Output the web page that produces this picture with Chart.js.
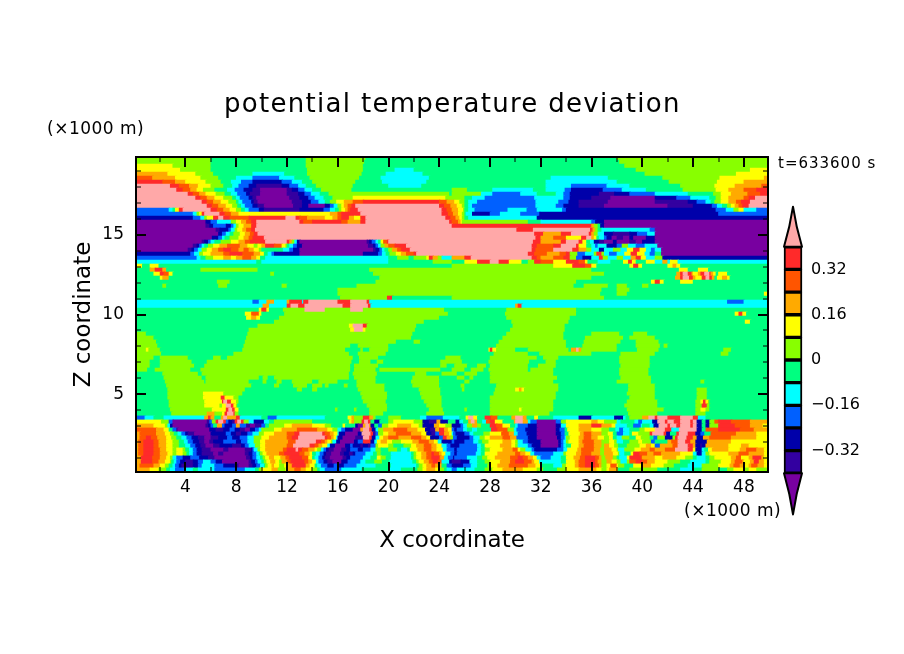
<!DOCTYPE html>
<html>
<head>
<meta charset="utf-8">
<script src="https://cdn.jsdelivr.net/npm/chart.js@4"></script>
<style>
  body { margin: 0; background: #fff; }
  #plot { position: absolute; left: 0; top: 0; }
  #bar { position: absolute; left: 775px; top: 200px; }
</style>
</head>
<body>
<canvas id="plot" width="904" height="654"></canvas>
<canvas id="bar" width="129" height="325"></canvas>
<script>
// shading classes a..l, lowest to highest
const classKeys = 'abcdefghijkl';
const classColors = ['#7800a0', '#3300a0', '#0000aa', '#0060ff', '#00ffff', '#00ff80',
                     '#88ff00', '#ffff00', '#ffaa00', '#ff5500', '#ff2a2a', '#ffa8a8'];
const levelEdges = [-0.4, -0.32, -0.24, -0.16, -0.08, 0, 0.08, 0.16, 0.24, 0.32, 0.4];
const barTicks = [0.32, 0.16, 0, -0.16, -0.32];
const barTickLabels = ['0.32', '0.16', '0', '\u22120.16', '\u22120.32'];

const xMajor = [4, 8, 12, 16, 20, 24, 28, 32, 36, 40, 44, 48];
const xMinor = [2, 6, 10, 14, 18, 22, 26, 30, 34, 38, 42, 46];
const zMajor = [5, 10, 15];
const zMinor = [1, 2, 3, 4, 6, 7, 8, 9, 11, 12, 13, 14, 16, 17, 18, 19];

const rowZ = [19.75, 19.5, 19.25, 19, 18.75, 18.5, 18.25, 18, 17.75, 17.5, 17.25, 17, 16.75, 16.5, 16.25, 16,
  15.75, 15.5, 15.25, 15, 14.75, 14.5, 14.25, 14, 13.75, 13.5, 13.25, 13, 12.75, 12.5, 12.25, 12,
  11.75, 11.5, 11.25, 11, 10.75, 10.5, 10.25, 10, 9.75, 9.5, 9.25, 9, 8.75, 8.5, 8.25, 8,
  7.75, 7.5, 7.25, 7, 6.75, 6.5, 6.25, 6, 5.75, 5.5, 5.25, 5, 4.75, 4.5, 4.25, 4,
  3.75, 3.5, 3.25, 3, 2.75, 2.5, 2.25, 2, 1.75, 1.5, 1.25, 1, 0.75, 0.5, 0.25];

// each row: class letter + x (km) where that class starts
const rowRuns = [
'g0 f6 g13.5 f18.2 g38',
'g0 f6 g13.5 f18.1 g38.2',
'h0 g3 f6 g13.5 f18 g38.6',
'h0 g3.6 f6 g13.6 f18 e20.5 f22 g39.5 h48.5',
'i0 h2.6 g4.8 f6.2 e9.3 f11.8 g13.6 f17.9 e19.8 f22.7 g40.2 h47.4',
'j0 i1.4 h3.2 g5.2 f6.6 e8 d9.3 e11.4 f12.6 g13.8 f17.7 e19.4 f23.2 e32.8 f37.3 g41.6 h46.1 i49.6',
'k0 j2.2 i3.2 h4 g5.6 f6.8 e7.6 d8.4 c9.3 d11.6 e12.4 f13.2 g14 f17.4 e19.5 f23 e32.4 f38 g42.1 h45.9 i48',
'l0 k2.8 j3.5 i4.3 h5 g6 f7 e7.7 d8.2 c9 b9.6 c11.6 d12.2 e12.9 f13.5 g14.3 f17.2 e20 f22.6 e32.4 d34.4 e37.2 f39 g43 h45.7 i47.3 j49.4',
'l0 k3.3 j3.8 i4.4 h4.9 g5.4 f6.3 e7.3 d7.9 c8.6 b9.3 a9.9 b12 c12.4 d12.9 e13.4 f14 g14.7 f17.1 g25 f26.2 e28.2 f31.4 e32.4 d33.9 c34.4 d36.9 e38.4 f40.3 g43.2 h45.8 i46.8 j48 k49',
'l0 k4.2 j4.6 i5.1 h5.6 g6.4 f7.1 e7.6 d8.1 c8.8 b9.1 a9.9 b12 c12.9 d13.4 e13.9 f14.6 g15.3 f24.8 g25 e27.3 d28.2 e30.4 f31.7 e33.2 d33.8 c34.3 b36.6 c37.8 d39 e41 f43.6 g45.6 h46.2 i47 j48.3 k49.3',
'l0 k4.8 j5.2 i5.7 h6.3 g7 f7.7 e8 d8.3 c9 b9.3 a9.6 b12.2 c13 d13.7 e14.2 f14.9 g15.6 h17.2 g24.5 f26 e26.6 d27.6 e31.5 d33.8 c34.3 b36 a37.5 c41 d42.7 e43.8 f45.3 g45.8 h46.2 i46.8 j48 k48.4 l48.9',
'l0 k5.3 j5.7 i6.2 h6.8 g7.4 f8 e8.2 d8.5 c9.2 b9.4 a9.7 b12.4 c13.2 d13.9 e14.5 f15 g15.4 h15.9 i16.5 j17.2 k18 j24 i24.6 h25.2 g25.6 f26 e26.3 d27 e31.6 d33.4 c34.2 b35 a37.3 b41 c43.6 d44.3 e45 f45.4 g45.7 h46.2 i46.8 j47.4 k47.8 l48.5',
'l0 k5.7 j6.1 i6.6 h7.2 g7.7 f8.1 e8.4 d8.7 c9.3 b9.7 a10.2 b12.5 c13.2 a13.7 c15 d15.4 e15.7 g16 h16.3 i16.5 j16.8 k17.1 l17.4 k24 j24.4 i24.9 h25.4 g25.8 f26 e26.3 d26.6 e31.6 d33.2 c33.8 b35 a37 b42 c44 d45.5 e45.9 f46.3 g46.7 h47 i47.3 j47.6 k47.9 l48.4',
'd0 e2.7 f3 h3.2 k3.5 l3.8 k6 j6.5 i7 h7.5 g8 f8.4 e8.7 d9 c9.8 b10.2 c13 d14.9 e15.4 f15.8 g16.1 h16.3 i16.6 j16.8 k17 l17.6 k24.2 j24.6 i25 h25.5 g25.9 f26 e26.3 d26.8 e29.4 d30.9 e31.7 d33.7 c34 d45.8 e46.6 g47.2 h47.6 e48 d49',
'd0 e4.6 g4.9 h5.1 k5.3 l5.5 k6.7 j7.1 i7.6 h8.2 i15.4 j16 k16.3 l17.8 k24.2 j24.7 i25.1 h25.5 g25.8 f26 e26.1 c26.6 d28 e28.8 d30.4 c31.9 d46',
'c0 d4.6 e5.2 g5.5 h5.7 k6.2 l6.6 k7 j7.5 k9 l11.9 k12.7 j13 i13.6 h15 i15.6 j16 k16.3 i16.9 h17.3 k17.8 l18.2 k24.5 j24.9 i25.3 h25.6 g25.8 f26 e26.3 c31.7',
'a0 c5.6 d6 e6.5 g7.6 h8 i8.4 j8.8 k9.2 l9.6 k13 j13.3 k14 j16.3 i16.8 k17.8 l18.2 k24.8 j25 i25.5 h25.7 g25.8 f31 e32 d36 c36.3 a37',
'a0 b5.6 c5.9 d6.2 c7.2 d7.6 e7.8 g8 h8.2 i8.6 k9.2 l9.6 k25 i36 g36.2 f36.5 c36.7 a37',
'a0 b6.4 c6.7 d7.4 e7.6 g7.9 h8.1 i8.5 j8.8 k9.2 l9.5 k30.1 l31.4 k35.9 i36.1 g36.3 f36.5 e36.8 d40.6 a41',
'a0 c6.6 d6.9 e7.2 f7.5 g7.8 h8.3 i8.7 j9.1 k9.4 l9.7 k31.5 i32.2 k33.6 l34.4 k35.8 i36 g36.2 e36.5 c37 b37.7 c39 d39.6 e40.4 a41',
'a0 c6.1 d6.6 e6.9 f7.1 g7.5 h8.2 i8.6 j9 k9.3 l10.2 k31.6 i32 j33 h34 k35.2 l35.6 i36 h36.2 f36.4 e36.6 d37 c37.2 a37.6 b38 a38.5 c39 a39.3 c40.3 a41',
'a0 b5.3 c5.5 d5.8 e6 f6.3 g6.8 h7.6 i8.2 j8.7 k9.1 l10.3 k12 i12.2 g12.4 e12.6 c12.8 a13 b18.3 c18.5 d18.7 e19 f19.2 h19.4 j19.6 k19.9 l20 k31.4 i32 k33.6 l34 k35 h35.3 f35.6 e35.9 c36.2 b36.6 a37 c37.7 a38 b39 a39.5 c40 a41',
'a0 b4.6 c4.9 d5.1 e5.3 f5.5 g5.8 h6.2 i6.7 j7.3 i8.3 h8.9 g9.4 h9.7 i10 k10.3 j11 h11.6 g11.9 f12 e12.2 d12.5 c12.8 a13.2 b18.4 c18.8 d19 e19.2 g19.4 i19.7 j20 k20.5 l21.4 k31.3 j31.7 k33 l33.6 k34.8 h35 f35.6 e36 d36.3 e36.5 c37.2 d38 g38.4 e38.9 d39.5 e40.2 a41.2',
'a0 b4.2 c4.5 d4.7 e5 g5.3 h5.7 i6.1 j6.6 k7 j7.6 i8.2 j8.6 i9 h9.4 g9.8 f10 e11.7 d12.2 c12.5 a13 b18.8 c19 d19.3 e19.5 f19.7 g20 i20.3 j20.7 k21 l21.7 k31.3 j31.6 l33 k34.5 i35 g35.6 e36 c36.6 e37 g37.7 e38.3 h38.8 k39.3 h39.8 e40.3 d40.7 e41 a41.5',
'c0 d4.4 e4.7 g5.1 h5.4 i6 j7 k7.5 j8.5 i9.4 h9.9 f10.2 e10.5 d10.8 c11 a13 c18 d19.2 e19.5 f19.8 g20.1 h20.6 i21 j21.4 k22 l22.2 k31 j31.5 i32.5 j33.5 k34 g34.3 d34.9 e35.5 g36.2 k36.4 g36.8 e37 d37.4 e38 h38.6 k39.1 h39.6 e40.2 d40.6 f41 a41.5',
'd0 e4.9 f5.2 g5.6 h6.2 i7 h7.6 i8 j8.5 i9.2 h9.6 f9.9 e10.3 f20 g20.7 f21.6 g22 h23 k23.2 i23.5 g23.9 e24.2 i25 k26 l26.5 k31.3 j31.7 i32 j33 k33.8 g34.3 d34.8 c35.3 e36 k36.6 g36.9 e37.3 g38 e38.5 i39.1 k39.5 h39.9 e40.3 g41 c41.6',
'e0 f9.6 e10 f20 g23.5 f25 h26 k27 l28 k28.7 h29.5 f30.5 g31 k31.5 j32 h33 k34 j35 h35.5 f35.7 e36.5 f37.5 h38.5 k38.9 h39.2 f39.5 h40.3 e41 i41.6 e42 h42.2 e42.8',
'h0 f0.6 h1.2 f1.9 g25 h33 k34.5 j35.5 h36 f36.4 h39 k39.3 h39.7 f40 h42 i42.4 h42.7 f43',
'f0 i1.2 k1.6 i2.2 f2.5 g5.2 f9.7 g18.5 f36 h42.9 f43.6 h44.4 f45.2',
'f0 h1.5 k2 j2.3 h2.7 f3 g10.7 f11 g18.8 f37 i42.7 k43 l43.2 k43.6 i43.9 h44 i44.4 k44.6 l44.9 k45.3 i45.4 h45.6 f45.8 h46 f46.7',
'f0 h2 i2.2 f2.7 g19.3 f36 i42.6 k43 l43.2 k43.7 i44 h44.2 k44.7 l45 k45.3 i45.5 f45.7 h45.9 i46.3 h46.7 f46.9',
'f0 g6.5 f7.5 g19 f34.8 h40.7 k41 h41.4 f41.7 h43 f44',
'f0 g2.2 f2.5 g6.6 f7.3 g11.6 f12 g17.5 f34.6 g35.4 f37.3 g38 f38.8 g40 f40.5',
'f0 g16 f36.8 g38 f39',
'f0 g16 f36.7 g38 f38.8 h49.6',
'f0 g16.2 k19.9 f20.3 g25 f37',
'e0 d9.3 e9.8 i10.4 e11 i12 k12.2 e13.2 k13.3 l13.7 k16 l17 k18.3 e18.5 d46.7 e48',
'e0 i10.1 e10.6 k12 l12.3 k12.9 l13.4 k16.4 l17 k18.4 e18.6 i30 k30.2 e30.5',
'f0 h9.8 k10 h10.4 f10.6 g11.7 l13.4 g15 l17 g18 f24.4 g29.3 f34.8',
'f0 h8.7 j9.2 h9.8 f10 g11.8 f24.7 g29.2 f34.8 h47.3 k47.6 h47.9 f48.2',
'f0 h8.8 i9.2 h9.6 f9.9 g11.4 f24 g29.3 f34.3',
'f0 g11 f22.8 g29.7 f34.2 h48.1 f48.5',
'f0 g9.7 h16.9 l17.2 k18 g18.3 f22.2 g29.8 f33.9',
'f0 g9 h17 l17.3 h18 g18.2 f22.1 g29.6 f33.9',
'g0 f0.9 g8.9 f21.9 g29.3 f33.8 g36 f38.2 g39.3 f40.4',
'g0 f1.5 g8.8 f21.8 g29 f33.8 g35.5 f38.5 g39 f41',
'g0 f1.7 g8.7 f20.6 g22 f22.5 g28.7 f34 g35.4 f38.3 g39.5 f41.3',
'g0 f1.8 g8.6 f17 g17.6 f20 g28.5 f34 g35.3 f38 g39.5 f41.4 g41.7 f42',
'g0 h0.9 g1.1 f2 g8.5 f16.6 g17.8 f18 g18.5 f20 h27.9 k28 h28.2 g28.5 f30 g31 f34.2 i34.4 l34.8 i35 g35.2 f38 g39.6 f41.3 g46.4 f47',
'g0 f2.1 g7.8 f16.9 g17.6 f19.8 g28.3 f31 g31.9 f36 g38.3 f41 g46.2 f46.8',
'g0 f1.5 g2 f4.2 g6.2 f6.8 g7.3 f17.2 g17.7 f19.2 g24.5 f25.7 g28 f31.7 g32.2 f33.4 g38.2 f40.6',
'g0 f1.2 g2 f4.5 g5.7 f17.1 g17.7 f18.6 g19.1 f19.6 g24.1 f25.8 g27.9 f31.1 g32.4 f33.2 g38.2 f40.6',
'g0 f1.2 g2 f4.7 g5.5 f17 g17.3 f19.2 g24.1 f24.6 g25.2 f26.2 g27 f27.7 g28 f31 g31.8 f33.2 g38.3 f40.6',
'g0 f1 g1.6 f4.4 g5.2 f17 g17.3 f19 g19.3 f24.1 g25 f26 g26.5 f27.5 g27.9 f31 g31.2 f33 g38.2 f40.5',
'f0 g2.2 f5 g5.3 f16.9 g17.2 f19.1 g22.1 f23 g24.2 f25.4 g26 f27 g28 f33 g38.2 f40.5',
'f0 g2.3 f5.3 g5.6 f9.8 g10.1 f10.5 g11 f16.9 g17.3 f19 g21.9 f24 g25.4 f26 g26.4 f26.7 g28 f33.3 g38.3 f40.7',
'f0 g2.4 f5.5 g5.6 f9 g10.1 f10.4 g11.2 f11.6 g12.4 f14 g14.5 f16 g17.5 f19 g21.8 f24 g26 f26.4 g28 f33 g38 f40.7 g44.6 f44.9',
'f0 g2.5 f9.2 g11 f11.4 g12.5 f13.6 g14 f14.8 g15 f15.3 g16.5 f16.8 g17.5 f19.7 g21.9 f24 g25.7 f26 g28.5 f33.4 g38.9 f41',
'f0 g2.6 f8.7 g12.8 f13.2 g14 f14.4 g17.6 f19.7 g22.4 f24.1 g25.8 f26 g28.4 h30 i30.3 h30.5 g30.7 f33.4 g38.9 f41 g44.3 f45.1',
'f0 g2.6 h5.4 g7 f8.5 g17.8 f19.9 g22.5 f24.1 g28.3 f33.2 g38.8 f41 g44.3 f45.1',
'f0 g2.6 h5.4 k6.8 h7.1 g7.8 f8.2 g17.9 f19.9 g22.6 f24.2 g28 f33.2 g39 f41 g44.3 f45.1',
'f0 g2.7 h5.5 k6.9 l7 k7.3 h7.6 g8 f8.2 g18 f19.8 g22.8 f24.2 g28 f33 g38.8 f41.2 g44.2 h44.6 k44.8 h45 g45.2 f45.3',
'f0 g2.7 h5.5 g6.7 h6.9 l7.2 k7.6 h7.8 g8 f8.1 g18.3 f19.9 g23 f24.2 g28 f33 g38.6 f41.2 g44.2 k44.7 g45.1 f45.3',
'f0 g2.8 h6.1 k7.2 l7.4 k7.7 h7.9 f8.2 g15.8 f16 g17.3 f17.5 g18.5 f19.9 g23.2 f24.3 g26 f26.2 g28 h30.3 g30.5 f33 g38.8 f41.7 g44.2 h44.6 g45 f45.3',
'f0 g2.9 i5.7 g6.3 h6.9 k7.1 l7.3 k7.8 g7.9 f8.2 g18.5 f19.6 g23 f24.4 g28 f32.7 g38.9 f41.2 g44.2 f45',
'd0 e0.8 f1.5 e2.3 i5.5 k5.8 i6 f6.3 i6.8 l7 i7.3 k8 e8.3 f10 d10.5 e11.2 f15 h16.8 i17.1 g17.3 k18 i18.5 g18.8 f19 g20 f21 e22.5 d23 e24.3 f25.6 h26.1 l26.3 h26.7 f27 k27.6 j28.1 f28.6 i29.7 l30 i30.6 f30.9 h31.5 f31.8 e33 c35 e36 c37.8 e38.5 f38.7 g39 i40 l40.5 k41 l41.2 k42 l43 k44 e44.4 f45',
'h0 g2.1 d2.7 a3 b5.7 d5.9 g6.1 k6.4 l6.6 k7 d7.2 c7.4 b7.7 k7.9 l8.1 k8.4 g8.6 e9 c9.4 e10.2 f10.6 g11 f14 h16.9 i17.1 g17.3 k17.9 l18.1 k18.4 f18.6 c18.9 f19.3 g20 h20.4 g22 c22.7 b23.2 i23.8 c24.1 f24.7 c25.3 e25.6 f25.9 i26.3 l26.5 i26.8 f27 e27.4 j27.7 k28 h28.4 f29 i29.9 l30 i30.6 e31 d31.2 a31.7 d33.2 g33.6 h34 i36 h36.5 g37 e38 f38.3 e39.4 d39.7 e40 c40.8 l41.2 k41.8 l42 k42.5 l43 k43.8 l44 c44.3 f44.7 c45 g45.3 j45.7 k46 j47 i48.5',
'i0 h1.5 g2.4 e2.6 c2.8 a3 b5.6 c5.8 d6 f6.2 i6.5 d6.9 c7.1 d7.7 i8 d8.3 b8.8 a9.1 b9.5 d10 f10.3 g10.6 h11.8 i12.4 h14 g15 f15.5 h16.4 f16.6 c17.4 a17.6 i18 l18.2 i18.5 c18.6 f18.9 d19.2 g19.5 h20 i20.7 h21.8 g22.4 c22.7 i23.6 h24 g24.5 c25 d25.7 e25.9 g26.2 i26.6 g27 f27.3 k28 j28.5 h29 f29.6 e30 d30.2 c31 a31.7 c33.2 e33.6 h34 i35 k36 i36.8 h37.6 e37.9 f38.8 d39.3 e39.9 f40 e40.6 c40.9 l41.3 k42 l42.2 k42.7 l43 k43.8 l44 c44.3 f44.7 c45 g45.3 k46 j47.3 i48.5 h49.5',
'j0 i1.7 h2.3 f2.7 d3 b3.3 a3.4 c5.9 b6.4 c7 d7.5 c7.9 b8.3 a8.7 c9.1 d9.5 e9.8 g10 h11 i11.6 j12.8 i14.4 h15.2 g15.6 e16 d16.3 c16.6 a17.2 i17.8 l18 k18.5 c18.7 e19 g19.2 i19.6 j20.4 i21.5 h22.3 c22.9 b23.3 i23.7 k24 i24.4 h24.7 d25 c25.2 d25.4 e25.9 f26.2 e26.6 f27 k28.1 j28.6 g29.4 e29.9 d30.1 c30.8 a31.7 c33.2 d33.5 f33.9 h34.1 i35 h36 g36.8 f37.4 e37.9 d38.2 e38.5 f39 g39.8 h40.2 l41 k41.8 e42.3 l42.9 c44.3 f44.7 j45 k46 j47.7 i48.8',
'i0 j0.4 i1.7 h2.4 g2.8 f3.1 e3.4 d3.7 c4 b4.2 a4.7 c6 d7.2 c7.6 b8 c8.4 d8.9 e9.3 g9.8 h10.2 i11 j12 k12.6 l13 k14.8 j15 i15.4 h15.7 e16 c16.1 a16.6 c17.6 l17.9 k18.6 b18.8 d19 g19.2 h19.6 i20 j20.6 i21.8 h22.6 c23 b23.4 d23.7 k24 i24.4 h24.8 e25 d25.1 c25.3 d26 e26.4 f26.7 g27.5 h28 j28.9 i29.5 e29.9 d30.2 c30.9 a31.7 c33.2 d33.6 f33.9 h34.2 i35.1 j35.4 i36 g36.8 h37.3 f37.7 d38 e38.5 f39 h39.2 g39.7 k40.6 l40.8 k41.7 c41.9 f42.2 k42.7 l42.9 k43.6 c44.2 d44.6 f44.9 j45.4 i47.4 h49',
'i0 j0.4 k0.9 j1.3 i1.8 h2.5 g2.9 f3.3 e3.7 d4.1 c4.5 b5 a5.5 b6 c6.6 d7.3 c7.7 d8.3 e8.9 g9.4 h10 i10.6 j12 k12.4 l12.9 k15 j15.2 i15.5 h15.7 e15.9 c16 a16.4 b17.4 l18 k18.5 c18.7 e19 h19.3 i19.6 j20 i20.8 j21.8 i22.6 h23 c23.3 d24 k24.3 i24.6 g24.9 d25.1 c25.4 d26.4 e26.7 g27.2 h27.6 i28 j29 i29.6 d30.1 c31 a31.7 c33.3 d33.6 e33.9 g34 h34.3 i35 j35.4 i36 h36.5 g37 h37.4 f37.7 e38 g38.4 f39 h39.5 g39.9 f40.6 d40.9 g41.2 c41.8 g42.4 k42.6 l42.8 k43.5 i44 c44.3 i44.8 j45.3 i47 h49',
'i0 j0.3 k0.7 j1.5 i1.9 h2.5 g3 f3.5 e3.9 d4.2 c4.6 b5.1 a5.5 b5.9 c6.2 d7 c8 d8.4 e8.9 g9.4 h9.9 i10.3 j12.1 l12.7 k14.3 j14.7 i15 h15.2 g15.5 e15.6 c15.9 a16.2 c17.3 d17.6 k18 c18.6 e18.9 h19.1 i19.4 h19.9 g20.3 h21 i21.9 j22.4 i23.2 h23.6 e23.9 c24.2 d25 c25.2 d26 e26.7 f27.1 g27.4 h27.9 i29 h29.7 g30 e30.2 d30.6 c31 a32 c33.4 d33.6 e33.8 g34 h34.2 i35 j35.3 i36.2 g36.8 h37.4 g37.8 e38 f38.5 g39 h39.7 g40 d40.7 f41 i42 j42.3 l42.8 k43.4 i43.8 c44.2 i45.1 h47',
'i0 j0.3 k0.7 j1.5 i1.9 h2.5 g3 f3.5 e4 d4.4 c4.8 b5.2 a5.6 b6.2 c6.7 b7.7 c8.4 d8.7 e9 g9.5 h9.9 i10.3 j12 l12.5 k13.8 j14.2 i14.5 h14.8 e15.2 c15.4 a15.8 c16.6 d17 c17.2 b17.8 c18 b18.4 d18.6 g19 h19.2 g20 f20.4 g21.2 h21.8 i22.2 j22.8 i23.4 h23.8 e24.2 d24.6 c24.9 d25.6 e27 f27.3 h27.6 i28.8 h29.7 g30 e30.2 d31 c31.3 a32 c33.4 d33.6 e33.8 f34 h34.4 i35 j35.4 i36.2 g36.8 i37 h37.4 g37.8 f38.1 g38.8 h39.8 i40.3 h40.7 d41 i41.4 j42.4 l42.8 k43.6 i44 c44.2 b44.6 c44.7 i45 h46.8 i47.8 h48.4',
'i0 j0.3 k0.7 j1.5 i2 h2.5 g3 h3.3 g3.8 f4 e4.3 d4.6 c4.9 b5.3 a6 b7 a7.4 b8.7 c9.2 d9.3 e9.4 g9.7 h9.9 i10.3 j11.7 k12 l12.7 k12.9 j13.2 i13.7 h14.2 g14.4 e14.7 d14.9 c15.1 b15.3 a15.7 b16.3 c16.7 d17 c17.6 d18 e18.6 g19 f19.4 g20 f20.7 e21 f21.5 h21.7 i22.3 j22.8 i23.4 h23.8 e24.3 d24.6 c25.2 d25.4 e27 f27.3 g27.6 h28 i29 j29.8 h30.2 g30.4 e30.8 d31.3 c31.5 d33.3 e33.8 h34.1 i34.9 j35.2 i36.2 g36.7 i37 h37.6 g38 e38.1 g38.6 h39.4 i39.9 j40.6 i41 j41.8 l42.6 k43.6 h44 c44.2 e44.7 f44.9 h45.2 i45.5 h46.8 i47.7 j48.2 i49 h49.6',
'i0 j0.3 k0.7 j1.5 i2 h2.6 g3 h3.3 g3.8 f4.1 e4.3 d4.6 c4.9 b5.3 a6.2 b6.6 a7 b8.7 c9 d9.3 e9.6 f9.8 g9.9 h10.1 i10.4 j11.4 k11.8 j13 i13.4 h13.8 f14 e14.3 d14.6 c14.9 b15.1 a15.5 b16.2 c16.5 b16.9 c17.2 d17.4 e18.2 f18.8 g19.1 f19.4 e20.2 f21.8 g22 h22.2 i22.6 j23 k23.4 j23.6 i24 h24.2 e24.5 d24.9 c25.2 d25.4 e26.9 f27.3 h27.6 i28.6 j30 i30.4 h30.8 e31.2 d31.5 e33 g33.8 h34 i34.8 j35.2 i36 g36.7 i37 h37.7 g38.1 e38.2 f38.6 h39.1 k39.3 j39.8 i40.4 j40.9 i41.5 h43 e44 c44.3 e44.7 g45 h45.3 i46.8 j47.6 i48.4 h49.6',
'i0 k0.5 j1.4 i2 h2.5 g2.8 e3 d3.3 c3.8 d4.4 c5.1 b5.8 a6.3 b8.8 c9.1 d9.3 e9.6 f9.9 g10.1 h10.3 i10.6 h11 i11.5 j11.9 k12.2 j13.2 h13.7 f14 e14.2 d14.5 c14.8 b15 a15.4 b16.4 c16.7 d17 e18 f18.6 h19.1 g19.4 f19.8 e20.2 f21.8 g22 h22.2 i22.6 j23 k23.4 j24 i24.1 e24.4 d24.7 c25.1 d25.2 e26.2 f27 g27.4 h27.8 i28.4 j29.6 k30.2 j30.6 i31 h31.4 e31.7 d32 e32.8 f33.6 h34 i34.6 j35.1 k35.5 j36.3 i36.6 g36.8 i37.1 g37.7 f38 e38.2 h38.8 k39 j39.9 i40 h41 i41.6 h42.7 g43.4 f44 e44.3 f45 g45.3 h45.7 i47 j47.4 h47.8 i48.4 k48.7 i49.4 h49.6',
'i0 k0.5 j1.4 i1.9 h2.4 g2.8 f2.9 e3.1 d3.3 c3.6 b4 c4.6 d5 e5.4 d6 c6.4 a6.9 b9 c9.2 d9.5 e9.7 f10 g10.2 h10.4 i10.7 h11.1 g11.4 i11.6 j12 k12.3 j13.4 i13.7 h14 e14.3 d14.5 c14.9 b15.2 a15.6 c16.3 d16.8 e17.8 f18.2 g18.9 f19.5 e20.1 f21.9 g22.2 h22.4 i22.8 j23.2 k23.5 j23.9 e24.2 c24.8 b25 c25.7 e26.4 f27 g27.6 h28 i28.8 j29.6 k30 j30.7 i31.3 h31.5 e31.9 f33.6 h34 i34.7 j35 k35.5 j36.3 i36.5 g36.8 i37.2 h37.6 g38 e38.3 g38.8 j39 k39.5 j40 i40.4 h41 g42 f43 e43.8 f45 g45.3 h46.2 i47 j47.3 i47.9 h48 i48.5 k48.8 i49.2 h49.6',
'i0 j0.4 i1.5 h2 g2.4 f2.7 e3 d3.2 c3.5 b3.7 c4.6 d5 e5.3 d6.3 c7 b7.9 a8.2 b9 c9.3 d9.6 e9.9 f10.2 g10.3 h10.5 i10.8 h11 g11.4 h11.8 i12.1 k12.4 i13.5 h13.8 f14.2 e14.4 d14.7 c15.2 d15.7 c16 d16.5 e17.5 f19 e20.2 f22.2 g22.4 h22.7 i23 j23.4 i23.7 f24.2 d24.6 c25 d25.9 e26.5 f27 g27.8 h28 i28.6 j29.5 i31 h31.6 f32 e33 g33.7 h34 i34.7 j35 k35.5 j36.3 i36.6 g36.8 h37.2 j37.5 h38 g38.1 f38.6 h39.3 i40 h40.7 g41.7 f42.5 e43.6 g44.7 h46 i46.9 j47.2 i47.7 h48.1 i48.4 j48.6 i49.1 h49.6',
'i0 h1.2 g1.9 f2.5 e2.8 d3.2 e3.9 f4.6 e5 d6.3 e8.7 f9.5 g9.8 h10 i10.8 g11.3 h11.9 i12 j12.6 i13.1 h13.5 g14 f14.4 e14.6 d15 e16.3 f17.9 e20 f21 g22.3 h22.7 i23 h23.7 g24 f24.4 e24.6 d25 e25.4 f26.8 g27.6 h28.2 i29 h30.6 g31.7 f32.2 g33.3 h34 i35 h36.4 g36.8 h37.2 i37.4 h38 f38.1 g39 f41.2 e43 f44 g44.7 f46 g46.7 h47.2 g48 h48.4 g49'
];

const xMin = 0.1, xMax = 49.9, zMin = 0.15, zMax = 19.85;

// turn the rows into floating horizontal bars, left to right
const cells = [];
const cellColors = [];
rowRuns.forEach((row, i) => {
    const runs = [...row.matchAll(/([a-l])([\d.]+)/g)];
    runs.forEach((r, k) => {
        const end = k + 1 < runs.length ? parseFloat(runs[k + 1][2]) + 0.06 : xMax;
        cells.push({ y: rowZ[i], x: [parseFloat(r[2]), end] });
        cellColors.push(classColors[classKeys.indexOf(r[1])]);
    });
});

const frameTicks = {
    id: 'frameTicks',
    afterDatasetsDraw(chart) {
        const { ctx, chartArea: a, scales: { x, y } } = chart;
        ctx.save();
        ctx.strokeStyle = '#000';
        const mark = (list, len, w) => {
            ctx.lineWidth = w;
            ctx.beginPath();
            list.x.forEach(v => {
                const p = Math.round(x.getPixelForValue(v));
                ctx.moveTo(p, a.top); ctx.lineTo(p, a.top + len);
                ctx.moveTo(p, a.bottom); ctx.lineTo(p, a.bottom - len);
            });
            list.z.forEach(v => {
                const p = Math.round(y.getPixelForValue(v));
                ctx.moveTo(a.left, p); ctx.lineTo(a.left + len, p);
                ctx.moveTo(a.right, p); ctx.lineTo(a.right - len, p);
            });
            ctx.stroke();
        };
        mark({ x: xMinor, z: zMinor }, 5, 1);
        mark({ x: xMajor, z: zMajor }, 10, 2);
        ctx.lineWidth = 2;
        ctx.strokeRect(a.left, a.top, a.right - a.left, a.bottom - a.top);

        ctx.fillStyle = '#000';
        ctx.textBaseline = 'middle';
        ctx.textAlign = 'left';
        ctx.font = '26px "DejaVu Sans"';
        ctx.letterSpacing = '1.3px';
        ctx.fillText('potential temperature deviation', 224, 105);
        ctx.letterSpacing = '0.5px';
        ctx.font = '17px "DejaVu Sans"';
        ctx.fillText('(\u00d71000 m)', 47, 130);
        ctx.fillText('(\u00d71000 m)', 684, 512);
        ctx.letterSpacing = '1px';
        ctx.font = '15px "DejaVu Sans"';
        ctx.fillText('t=633600 s', 778, 164);
        ctx.restore();
    }
};

new Chart(document.getElementById('plot'), {
    type: 'bar',
    data: {
        datasets: [{
            data: cells,
            backgroundColor: cellColors,
            borderWidth: 0,
            barThickness: 5,
            grouped: false
        }]
    },
    options: {
        indexAxis: 'y',
        responsive: false,
        animation: false,
        devicePixelRatio: 1,
        events: [],
        layout: { padding: { top: 157, right: 136, left: 0, bottom: 0 } },
        plugins: { legend: { display: false }, tooltip: { enabled: false } },
        scales: {
            x: {
                type: 'linear',
                min: xMin,
                max: xMax,
                grid: { display: false, drawTicks: false },
                border: { display: false },
                afterBuildTicks: s => { s.ticks = xMajor.map(v => ({ value: v })); },
                afterFit: s => { s.height = 182; },
                ticks: { autoSkip: false, maxRotation: 0, padding: 5, color: '#000',
                         font: { family: 'DejaVu Sans', size: 17 } },
                title: { display: true, text: 'X coordinate', color: '#000',
                         font: { family: 'DejaVu Sans', size: 23 },
                         padding: { top: 0, bottom: 99 } }
            },
            y: {
                type: 'linear',
                offset: false,
                min: zMin,
                max: zMax,
                grid: { display: false, drawTicks: false },
                border: { display: false },
                afterBuildTicks: s => { s.ticks = zMajor.map(v => ({ value: v })); },
                afterFit: s => { s.width = 136; },
                ticks: { autoSkip: false, padding: 12, color: '#000',
                         font: { family: 'DejaVu Sans', size: 17 } },
                title: { display: true, text: 'Z coordinate', color: '#000',
                         font: { family: 'DejaVu Sans', size: 23 },
                         padding: { top: 70, bottom: 0 } }
            }
        }
    },
    plugins: [frameTicks]
});

// colour bar, with the out-of-range end pieces
const barMin = -0.5828, barMax = 0.5652;
const endCaps = {
    id: 'endCaps',
    afterDatasetsDraw(chart) {
        const { ctx, chartArea: a, scales: { y } } = chart;
        const cx = (a.left + a.right) / 2;
        const cap = (base, apex, colour) => {
            const yb = y.getPixelForValue(base), ya = y.getPixelForValue(apex);
            ctx.beginPath();
            ctx.moveTo(cx - 9, yb);
            ctx.quadraticCurveTo(cx - 3, (yb + ya) / 2, cx, ya);
            ctx.quadraticCurveTo(cx + 3, (yb + ya) / 2, cx + 9, yb);
            ctx.closePath();
            ctx.fillStyle = colour;
            ctx.fill();
            ctx.lineWidth = 2;
            ctx.lineJoin = 'round';
            ctx.strokeStyle = '#000';
            ctx.stroke();
        };
        cap(0.4, 0.5416, classColors[11]);
        cap(-0.4, -0.5456, classColors[0]);
    }
};

new Chart(document.getElementById('bar'), {
    type: 'bar',
    data: {
        labels: ['level'],
        datasets: levelEdges.slice(0, -1).map((lo, i) => ({
            data: [[lo, levelEdges[i + 1]]],
            backgroundColor: classColors[i + 1],
            borderColor: '#000',
            borderWidth: 2,
            borderSkipped: false,
            barThickness: 18,
            grouped: false
        }))
    },
    options: {
        responsive: false,
        animation: false,
        devicePixelRatio: 1,
        events: [],
        layout: { padding: 0 },
        plugins: { legend: { display: false }, tooltip: { enabled: false } },
        scales: {
            x: { display: false },
            y: {
                position: 'right',
                min: barMin,
                max: barMax,
                grid: { display: false, drawTicks: false },
                border: { display: false },
                afterBuildTicks: s => { s.ticks = barTicks.map(v => ({ value: v })); },
                afterFit: s => { s.width = 93; s.paddingTop = 0; s.paddingBottom = 0; },
                ticks: {
                    autoSkip: false, padding: 0, color: '#000',
                    font: { family: 'DejaVu Sans', size: 16 },
                    callback: v => barTickLabels[barTicks.indexOf(v)]
                }
            }
        }
    },
    plugins: [endCaps]
});
</script>
</body>
</html>
